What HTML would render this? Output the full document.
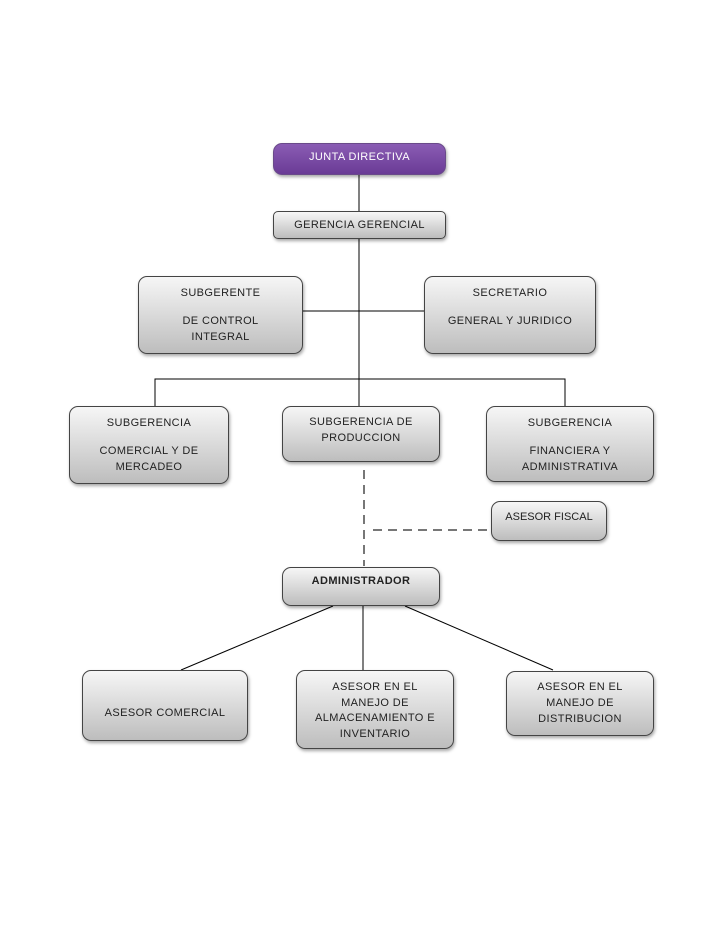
<!DOCTYPE html>
<html><head><style>
body{margin:0;width:728px;height:942px;background:#fff;position:relative;font-family:"Liberation Sans",sans-serif;}
.b{position:absolute;box-sizing:border-box;border:1px solid #444;border-radius:9px;background:linear-gradient(#f6f6f6,#d4d4d4 60%,#bdbdbd);box-shadow:1px 2px 3px rgba(0,0,0,.35);font-size:11px;color:#222;text-align:center;letter-spacing:.4px;line-height:16px;}
svg{position:absolute;left:0;top:0}
.s{height:12px}
</style></head><body>
<svg width="728" height="942">
<g stroke="#000" stroke-width="1" fill="none">
<line x1="359" y1="175" x2="359" y2="406"/>
<line x1="303" y1="311" x2="424" y2="311"/>
<polyline points="155,406 155,379 565,379 565,406"/>
<line x1="333" y1="606" x2="181" y2="670"/>
<line x1="363" y1="606" x2="363" y2="670"/>
<line x1="405" y1="606" x2="553" y2="670"/>
</g>
<g stroke="#777" stroke-width="2" stroke-dasharray="9,6" fill="none">
<line x1="364" y1="470" x2="364" y2="566"/>
<line x1="373" y1="530" x2="490" y2="530"/>
</g>
</svg>
<div class="b" style="left:273px;top:143px;width:173px;height:32px;background:linear-gradient(#8a5cb4,#6a3b96);border-color:#6a4a8a;color:#fff;padding-top:5px">JUNTA DIRECTIVA</div>
<div class="b" style="left:273px;top:211px;width:173px;height:28px;border-radius:5px;padding-top:5px">GERENCIA GERENCIAL</div>
<div class="b" style="left:138px;top:276px;width:165px;height:78px;padding-top:8px">SUBGERENTE<br><div class="s"></div>DE CONTROL<br>INTEGRAL</div>
<div class="b" style="left:424px;top:276px;width:172px;height:78px;padding-top:8px">SECRETARIO<br><div class="s"></div>GENERAL Y JURIDICO</div>
<div class="b" style="left:69px;top:406px;width:160px;height:78px;padding-top:8px">SUBGERENCIA<br><div class="s"></div>COMERCIAL Y DE<br>MERCADEO</div>
<div class="b" style="left:282px;top:406px;width:158px;height:56px;padding-top:7px">SUBGERENCIA DE<br>PRODUCCION</div>
<div class="b" style="left:486px;top:406px;width:168px;height:76px;padding-top:8px">SUBGERENCIA<br><div class="s"></div>FINANCIERA Y<br>ADMINISTRATIVA</div>
<div class="b" style="left:491px;top:501px;width:116px;height:40px;padding-top:7px;letter-spacing:0">ASESOR FISCAL</div>
<div class="b" style="left:282px;top:567px;width:158px;height:39px;padding-top:5px;font-weight:bold">ADMINISTRADOR</div>
<div class="b" style="left:82px;top:670px;width:166px;height:71px;padding-top:34px">ASESOR COMERCIAL</div>
<div class="b" style="left:296px;top:670px;width:158px;height:79px;padding-top:9px;line-height:15.7px">ASESOR EN EL<br>MANEJO DE<br>ALMACENAMIENTO E<br>INVENTARIO</div>
<div class="b" style="left:506px;top:671px;width:148px;height:65px;padding-top:7px">ASESOR EN EL<br>MANEJO DE<br>DISTRIBUCION</div>
</body></html>
